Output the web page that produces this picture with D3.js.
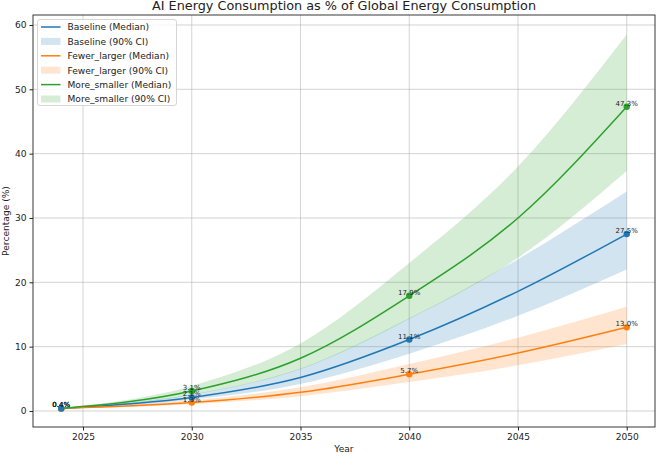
<!DOCTYPE html>
<html>
<head>
<meta charset="utf-8">
<script src="https://cdn.jsdelivr.net/npm/d3@7"></script>
<style>
  body { margin: 0; background: #fff; }
  svg { font-family: "DejaVu Sans", sans-serif; }
</style>
</head>
<body>
<svg id="chart" width="658" height="456"></svg>
<script>
// values
const years = [2024, 2030, 2035, 2040, 2045, 2050]
const markerYears = [2024, 2030, 2040, 2050]

const baselineMedian = [0.4, 2.1, 5.2, 11.1, 18.6, 27.5]
const baselineLow    = [0.35, 1.75, 4.2, 8.9, 14.8, 22.0]
const baselineHigh   = [0.45, 2.6, 6.6, 14.4, 23.6, 34.1]

const fewerMedian = [0.4, 1.3, 2.9, 5.7, 9.0, 13.0]
const fewerLow    = [0.35, 1.05, 2.3, 4.5, 7.1, 10.4]
const fewerHigh   = [0.45, 1.65, 3.7, 7.3, 11.4, 16.2]

const moreMedian = [0.4, 3.1, 8.2, 17.9, 30.0, 47.3]
const moreLow    = [0.35, 2.5, 6.5, 14.3, 23.8, 37.3]
const moreHigh   = [0.45, 3.9, 10.5, 23.0, 38.0, 58.5]

const xTicks = [2025, 2030, 2035, 2040, 2045, 2050]
const yTicks = [0, 10, 20, 30, 40, 50, 60]

const scenarios = [
    { name: "Baseline", color: "#1f77b4", med: baselineMedian, lo: baselineLow, hi: baselineHigh },
    { name: "Fewer_larger", color: "#ff7f0e", med: fewerMedian, lo: fewerLow, hi: fewerHigh },
    { name: "More_smaller", color: "#2ca02c", med: moreMedian, lo: moreLow, hi: moreHigh }
]

const margin = { top: 15, right: 3, bottom: 29, left: 33 }
const width = 658 - margin.left - margin.right
const height = 456 - margin.top - margin.bottom

const svg = d3.select("#chart")
const g = svg.append("g").attr("transform", `translate(${margin.left},${margin.top})`)

const xScale = d3.scaleLinear().domain([2022.7, 2051.3]).range([0, width])
const yScale = d3.scaleLinear().domain([-2.49, 61.55]).range([height, 0])

// grid
g.append("g").selectAll("line").data(xTicks).join("line")
    .attr("x1", d => xScale(d)).attr("x2", d => xScale(d))
    .attr("y1", 0).attr("y2", height)
    .attr("stroke", "#b0b0b0").attr("stroke-opacity", 0.55).attr("stroke-width", 1)
g.append("g").selectAll("line").data(yTicks).join("line")
    .attr("y1", d => yScale(d)).attr("y2", d => yScale(d))
    .attr("x1", 0).attr("x2", width)
    .attr("stroke", "#b0b0b0").attr("stroke-opacity", 0.55).attr("stroke-width", 1)

const curve = d3.curveMonotoneX

const area = d3.area()
    .x(d => xScale(d.year))
    .y0(d => yScale(d.lo))
    .y1(d => yScale(d.hi))
    .curve(curve)

const line = d3.line()
    .x(d => xScale(d.year))
    .y(d => yScale(d.med))
    .curve(curve)

scenarios.forEach(s => {
    s.rows = years.map((y, i) => ({ year: y, med: s.med[i], lo: s.lo[i], hi: s.hi[i] }))
    s.pts = s.rows.filter(d => markerYears.includes(d.year))
})

scenarios.forEach(s => {
    g.append("path").datum(s.rows)
        .attr("d", area)
        .attr("fill", s.color).attr("fill-opacity", 0.2)
})

scenarios.forEach(s => {
    g.append("path").datum(s.rows)
        .attr("d", line)
        .attr("fill", "none").attr("stroke", s.color).attr("stroke-width", 1.5)
})

// markers, baseline drawn last so it sits on top at 2024
scenarios.slice().reverse().forEach(s => {
    g.append("g").selectAll("circle").data(s.pts).join("circle")
        .attr("cx", d => xScale(d.year)).attr("cy", d => yScale(d.med))
        .attr("r", 3.2).attr("fill", s.color)
})

scenarios.forEach(s => {
    g.append("g").selectAll("text").data(s.pts).join("text")
        .attr("x", d => xScale(d.year)).attr("y", d => yScale(d.med) - 1)
        .attr("text-anchor", "middle")
        .attr("font-size", 7).attr("fill", "#222")
        .text(d => d.med.toFixed(1) + "%")
})

// axes
const xAxis = d3.axisBottom(xScale).tickValues(xTicks).tickFormat(d3.format("d")).tickSize(3.5).tickPadding(3)
const yAxis = d3.axisLeft(yScale).tickValues(yTicks).tickSize(3.5).tickPadding(3)

const xg = g.append("g").attr("transform", `translate(0,${height})`).call(xAxis)
const yg = g.append("g").call(yAxis)
;[xg, yg].forEach(a => {
    a.select(".domain").remove()
    a.selectAll("text").attr("font-size", 9.1).attr("fill", "#222").attr("font-family", "DejaVu Sans")
    a.selectAll("line").attr("stroke", "#222")
})

g.append("rect").attr("width", width).attr("height", height)
    .attr("fill", "none").attr("stroke", "#222").attr("stroke-width", 0.9)

// labels
svg.append("text").attr("x", margin.left + width / 2).attr("y", 10)
    .attr("text-anchor", "middle").attr("font-size", 12.8).attr("fill", "#222")
    .text("AI Energy Consumption as % of Global Energy Consumption")
svg.append("text").attr("x", margin.left + width / 2).attr("y", 452)
    .attr("text-anchor", "middle").attr("font-size", 9.1).attr("fill", "#222")
    .text("Year")
svg.append("text").attr("transform", `translate(9,${margin.top + height / 2}) rotate(-90)`)
    .attr("text-anchor", "middle").attr("font-size", 9.1).attr("fill", "#222")
    .text("Percentage (%)")

// legend
const legendItems = []
scenarios.forEach(s => {
    legendItems.push({ label: `${s.name} (Median)`, color: s.color, kind: "line" })
    legendItems.push({ label: `${s.name} (90% CI)`, color: s.color, kind: "patch" })
})
const lg = g.append("g").attr("transform", "translate(4.5,4.5)")
lg.append("rect").attr("width", 139).attr("height", 86).attr("rx", 2.5)
    .attr("fill", "#fff").attr("fill-opacity", 0.8).attr("stroke", "#ccc").attr("stroke-width", 0.8)
const rows = lg.selectAll("g.item").data(legendItems).join("g")
    .attr("class", "item")
    .attr("transform", (d, i) => `translate(0,${7.5 + i * 14.4})`)
rows.filter(d => d.kind === "line").append("line")
    .attr("x1", 3.5).attr("x2", 23).attr("y1", 0).attr("y2", 0)
    .attr("stroke", d => d.color).attr("stroke-width", 1.5)
rows.filter(d => d.kind === "patch").append("rect")
    .attr("x", 3.5).attr("y", -3.5).attr("width", 19.5).attr("height", 7)
    .attr("fill", d => d.color).attr("fill-opacity", 0.2)
rows.append("text").attr("x", 30).attr("y", 3.3)
    .attr("font-size", 9.1).attr("fill", "#222")
    .text(d => d.label)
</script>
</body>
</html>
